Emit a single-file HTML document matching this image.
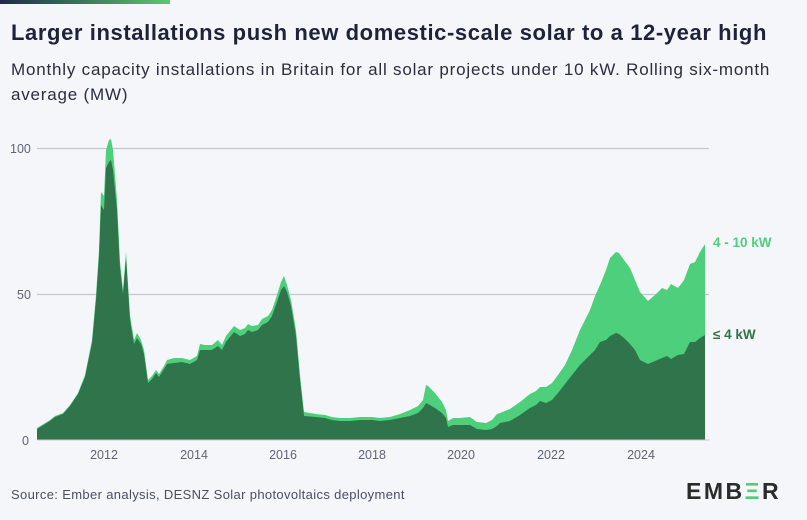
<!DOCTYPE html>
<html><head><meta charset="utf-8"><style>
html,body{margin:0;padding:0;background:#f4f6fa;}
body{width:807px;height:520px;position:relative;overflow:hidden;font-family:"Liberation Sans",sans-serif;}
.bar{position:absolute;left:0;top:0;width:170px;height:4px;background:linear-gradient(90deg,#1e2a4a,#5bc86f);}
h1{position:absolute;left:11px;top:20px;margin:0;font-size:22px;font-weight:bold;color:#1e2338;letter-spacing:0.6px;white-space:nowrap;}
.sub{position:absolute;left:11px;top:57px;width:790px;font-size:17px;line-height:25px;color:#2a2e3e;letter-spacing:0.8px;}
.src{position:absolute;left:11px;top:487px;font-size:13px;color:#4a4f60;letter-spacing:0.35px;}
.logo{position:absolute;left:686px;top:478px;font-size:23px;font-weight:bold;color:#2b2b2b;letter-spacing:2.5px;}
</style></head><body>
<div class="bar"></div>
<h1>Larger installations push new domestic-scale solar to a 12-year high</h1>
<div class="sub">Monthly capacity installations in Britain for all solar projects under 10 kW. Rolling six-month average (MW)</div>
<svg width="807" height="520" style="position:absolute;left:0;top:0" font-family="Liberation Sans, sans-serif">
<line x1="37" y1="148.5" x2="709" y2="148.5" stroke="#c4c6cf" stroke-width="1.2"/>
<line x1="37" y1="294.5" x2="709" y2="294.5" stroke="#c4c6cf" stroke-width="1.2"/>
<g fill="#5f6478" font-size="12.5">
<text x="10" y="153">100</text><text x="17" y="299">50</text><text x="22" y="445">0</text>
<text x="104" y="459" text-anchor="middle">2012</text><text x="194" y="459" text-anchor="middle">2014</text>
<text x="283" y="459" text-anchor="middle">2016</text><text x="372" y="459" text-anchor="middle">2018</text>
<text x="461" y="459" text-anchor="middle">2020</text><text x="551" y="459" text-anchor="middle">2022</text>
<text x="641" y="459" text-anchor="middle">2024</text>
</g>
<polygon fill="#4ecf7b" points="37,440 37,428 50,420 55,416 63,413 70,405 78,393 85,375 92,340 96,295 99,250 101,192 104,196 106,150 109,140 111,139 113,150 117,200 120,262 123,290 126,252 130,315 134,340 137,333 141,340 144,350 148,380 152,376 156,370 159,374 164,366 167,360 174,358 182,358 190,360 197,356 200,344 205,345 212,345 218,340 222,345 226,336 234,326 240,330 245,328 248,324 252,326 258,325 262,319 268,316 272,310 277,295 281,282 284,276 287,285 291,300 296,330 300,375 304,412 316,414 325,415 332,417 340,418 350,418 360,417 372,417 380,418 390,417 400,414 410,410 418,406 423,400 426,385 428,386 435,393 442,402 446,410 448,421 453,418 460,418 470,417 477,422 486,423 492,420 497,414 500,413 510,409 520,402 530,394 536,391 540,387 546,387 552,383 558,375 565,365 572,350 580,330 590,310 595,296 600,285 606,270 610,258 616,252 619,253 624,260 630,268 635,280 640,292 648,301 655,295 662,288 667,290 671,284 678,288 684,280 690,264 695,262 700,252 705,244 705,440"/>
<polygon fill="#2f744a" points="37,440 37,429 50,421 55,417 63,414 70,406 78,394 85,377 92,343 96,300 99,256 101,205 104,210 106,168 109,162 111,160 113,170 117,210 120,268 123,294 126,258 130,320 134,344 137,338 141,344 144,354 148,383 152,379 156,373 159,377 164,369 167,364 174,363 182,362 190,364 197,360 200,350 205,350 212,350 218,346 222,350 226,342 234,332 240,336 245,334 248,330 252,332 258,330 262,325 268,322 272,316 277,302 281,290 284,286 287,292 291,306 296,336 300,380 304,416 316,417 325,418 332,420 340,421 350,421 360,420 372,420 380,421 390,420 400,418 410,416 418,413 423,408 426,403 428,404 435,408 442,413 446,418 448,427 453,425 460,425 470,425 477,429 486,430 492,429 497,426 500,423 510,421 520,415 530,408 536,405 540,401 546,403 552,400 558,393 565,384 572,375 580,365 590,355 595,350 600,342 606,340 610,336 616,333 619,334 624,338 630,344 635,350 640,360 648,364 655,361 662,358 667,356 671,359 678,355 684,354 690,342 695,342 700,338 705,335 705,440"/>
<line x1="37" y1="440" x2="709" y2="440" stroke="#c4c6cf" stroke-width="1"/>
<text x="713" y="247" fill="#4ecf7b" font-size="13.5" font-weight="bold">4 - 10 kW</text>
<text x="713" y="339" fill="#2f744a" font-size="13.5" font-weight="bold">≤ 4 kW</text>
</svg>
<div class="src">Source: Ember analysis, DESNZ Solar photovoltaics deployment</div>
<div class="logo">EMB<span style="color:#4ecf7b">Ξ</span>R</div>
</body></html>
